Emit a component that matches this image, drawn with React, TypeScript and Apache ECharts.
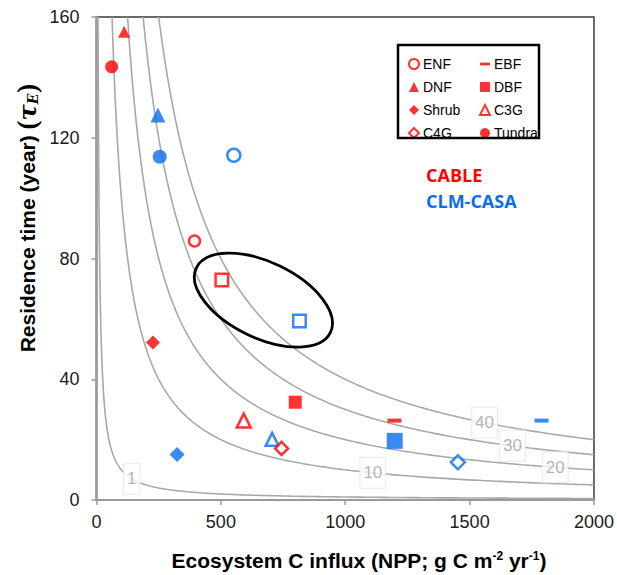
import React, { useEffect, useRef } from 'react';
import * as echarts from 'echarts';

// ---- data ----
const pftNames = ['ENF', 'EBF', 'DNF', 'DBF', 'Shrub', 'C3G', 'C4G', 'Tundra'];
const cableNpp = [394, 1198, 111, 799, 227, 592, 744, 61];
const cableTau = [85.8, 26.3, 155.1, 32.4, 52.2, 26.3, 17.1, 143.5];
const clmNpp = [552, 1789, 247, 1199, 324, 706, 1453, 254];
const clmTau = [114.2, 26.3, 127.5, 19.6, 15.1, 20.1, 12.5, 113.7];
const meanNpp = [504, 816]; // CABLE, CLM-CASA
const meanTau = [72.9, 59.3];
const storageLevels = [1, 10, 20, 30, 40]; // iso-lines of ecosystem C storage (kg C m-2)
const storageLabelNpp = [142, 1111, 1844, 1672, 1560];
const ellipseCenter = [671, 66.2];
const xTickValues = [0, 500, 1000, 1500, 2000];
const yTickValues = [0, 40, 80, 120, 160];

// ---- styles ----
const RED = '#ff0000';
const BLUE = '#0a6cf0';
const pftSymbol = ['circle', 'rect', 'triangle', 'rect', 'diamond', 'triangle', 'diamond', 'circle'];
const pftOpen = [true, false, false, false, false, true, true, false];
const cableSize: any[] = [11, [14, 4], 12, 13, 14, 14, 13, 13];
const clmSize: any[] = [13, [14, 4], 15, 16, 15, 13, 14, 14];
const legendLeftCol = ['ENF', 'DNF', 'Shrub', 'C4G'];
const legendRightCol = ['EBF', 'DBF', 'C3G', 'Tundra'];

function pointStyle(open: boolean, color: string) {
  return open ? { color: '#ffffff', borderColor: color, borderWidth: 2.5 } : { color };
}

function curveData(c: number) {
  const pts: number[][] = [];
  const x0 = (c * 1000) / 160;
  const n = 300;
  for (let k = 0; k <= n; k++) {
    const x = x0 * Math.pow(2000 / x0, k / n);
    pts.push([x, (c * 1000) / x]);
  }
  return pts;
}

function legendItem(name: string) {
  const i = pftNames.indexOf(name);
  const item: any = { name, itemStyle: pointStyle(pftOpen[i], RED) };
  if (pftOpen[i]) item.itemStyle = { color: '#ffffff', borderColor: RED, borderWidth: 2 };
  if (name === 'EBF') item.icon = 'path://M0,0H14V4H0Z';
  else item.icon = pftSymbol[i];
  return item;
}

export default function App() {
  const ref = useRef<HTMLDivElement>(null);
  useEffect(() => {
    if (!ref.current) return;
    const chart = echarts.init(ref.current, undefined, { renderer: 'svg' });
    const series: any[] = [];
    storageLevels.forEach((c) => {
      series.push({
        type: 'line',
        name: 'C' + c,
        data: curveData(c),
        showSymbol: false,
        symbol: 'none',
        silent: true,
        clip: true,
        lineStyle: { color: '#a8a8a8', width: 1.6 },
        z: 1,
      });
    });
    series.push({
      type: 'scatter',
      name: 'storageLabels',
      data: storageLevels.map((c, i) => [storageLabelNpp[i], (c * 1000) / storageLabelNpp[i], c]),
      symbolSize: 0,
      silent: true,
      z: 2,
      label: {
        show: true,
        position: 'inside',
        formatter: (p: any) => String(p.data[2]),
        fontFamily: 'Liberation Sans',
        fontSize: 17,
        color: '#a0a0a0',
        backgroundColor: '#ffffff',
        borderColor: '#e6e6e6',
        borderWidth: 1,
        padding: [7, 3, 6, 3],
      },
    });
    pftNames.forEach((name, i) => {
      series.push({
        type: 'scatter',
        name,
        data: [[cableNpp[i], cableTau[i]]],
        symbol: pftSymbol[i],
        symbolSize: cableSize[i],
        itemStyle: pointStyle(pftOpen[i], RED),
        z: 5,
      });
      series.push({
        type: 'scatter',
        name: name + ' (CLM-CASA)',
        data: [[clmNpp[i], clmTau[i]]],
        symbol: pftSymbol[i],
        symbolSize: clmSize[i],
        itemStyle: pointStyle(pftOpen[i], BLUE),
        z: 5,
      });
    });
    series.push({
      type: 'scatter',
      name: 'mean CABLE',
      data: [[meanNpp[0], meanTau[0]]],
      symbol: 'rect',
      symbolSize: 12.5,
      itemStyle: pointStyle(true, RED),
      z: 5,
    });
    series.push({
      type: 'scatter',
      name: 'mean CLM-CASA',
      data: [[meanNpp[1], meanTau[1]]],
      symbol: 'rect',
      symbolSize: 12.5,
      itemStyle: pointStyle(true, BLUE),
      z: 5,
    });

    const legendCommon = {
      orient: 'vertical',
      top: 52,
      itemGap: 9,
      itemWidth: 10,
      itemHeight: 10,
      selectedMode: false,
      textStyle: { fontFamily: 'Liberation Sans', fontSize: 14, color: '#000', lineHeight: 14, padding: [0, 0, 0, -1] },
    };

    chart.setOption({
      animation: false,
      backgroundColor: '#ffffff',
      grid: {
        left: 96.5,
        right: 21,
        top: 17,
        bottom: 75,
        show: true,
        borderColor: '#3a3a3a',
        borderWidth: 1.5,
        backgroundColor: 'transparent',
      },
      xAxis: {
        type: 'value',
        min: xTickValues[0],
        max: xTickValues[xTickValues.length - 1],
        interval: 500,
        axisLine: { show: true, onZero: false, lineStyle: { color: '#9a9a9a', width: 2 } },
        axisTick: { show: true, inside: false, length: 5, lineStyle: { color: '#9a9a9a', width: 1.5 } },
        axisLabel: { fontFamily: 'Liberation Sans', fontSize: 18, color: '#1a1a1a', margin: 13, formatter: (v: number) => String(v) },
        splitLine: { show: false },
      },
      yAxis: {
        type: 'value',
        min: yTickValues[0],
        max: yTickValues[yTickValues.length - 1],
        interval: 40,
        axisLine: { show: true, onZero: false, lineStyle: { color: '#9a9a9a', width: 2.5 } },
        axisTick: { show: true, inside: false, length: 5, lineStyle: { color: '#9a9a9a', width: 1.5 } },
        axisLabel: { fontFamily: 'Liberation Sans', fontSize: 18, color: '#1a1a1a', margin: 17, formatter: (v: number) => String(v) },
        splitLine: { show: false },
      },
      legend: [
        { ...legendCommon, left: 403, data: legendLeftCol.map(legendItem) },
        { ...legendCommon, left: 474, data: legendRightCol.map(legendItem) },
      ],
      series,
    });

    const c = chart.convertToPixel({ gridIndex: 0 } as any, ellipseCenter) as number[];

    chart.setOption({
      graphic: [
        {
          type: 'rect',
          shape: { x: 398, y: 45, width: 141, height: 93 },
          style: { fill: 'none', stroke: '#000', lineWidth: 2.5 },
          z: 10,
        },
        {
          type: 'ellipse',
          x: c[0],
          y: c[1],
          rotation: -25.7 * Math.PI / 180,
          shape: { cx: 0, cy: 0, rx: 74.4, ry: 37.9 },
          style: { fill: 'none', stroke: '#000', lineWidth: 2.8 },
          z: 10,
        },
        {
          type: 'text',
          x: 426,
          y: 175,
          style: {
            text: 'CABLE',
            fill: RED,
            font: 'bold 18px "Open Sans"',
            align: 'left',
            verticalAlign: 'middle',
          },
          z: 10,
        },
        {
          type: 'text',
          x: 426,
          y: 201,
          style: {
            text: 'CLM-CASA',
            fill: BLUE,
            font: 'bold 18px "Open Sans"',
            align: 'left',
            verticalAlign: 'middle',
          },
          z: 10,
        },
        {
          type: 'text',
          x: 359,
          y: 560,
          style: {
            text: '{a|Ecosystem C influx (NPP; g C m}{s|-2}{a| yr}{s|-1}{a|)}',
            align: 'center',
            verticalAlign: 'middle',
            rich: {
              a: { fontFamily: 'Liberation Sans', fontWeight: 'bold', fontSize: 21, color: '#000', lineHeight: 26, verticalAlign: 'middle' },
              s: { fontFamily: 'Liberation Sans', fontWeight: 'bold', fontSize: 12, color: '#000', lineHeight: 26, verticalAlign: 'top', padding: [3, 0, 0, 0] },
            },
          },
          z: 10,
        },
        {
          type: 'text',
          x: 27,
          y: 218,
          rotation: Math.PI / 2,
          style: {
            text: '{a|Residence time (year) }{p|(}{t|τ}{e|E}{p|)}',
            align: 'center',
            verticalAlign: 'middle',
            rich: {
              a: { fontFamily: 'Liberation Sans', fontWeight: 'bold', fontSize: 21, color: '#000', lineHeight: 30, verticalAlign: 'middle' },
              p: { fontFamily: 'Liberation Serif', fontWeight: 'bold', fontSize: 27, color: '#000', lineHeight: 30, verticalAlign: 'middle' },
              t: { fontFamily: 'DejaVu Serif', fontWeight: 'bold', fontStyle: 'italic', fontSize: 24, color: '#000', lineHeight: 30, verticalAlign: 'middle' },
              e: { fontFamily: 'DejaVu Serif', fontWeight: 'bold', fontStyle: 'italic', fontSize: 14, color: '#000', lineHeight: 30, verticalAlign: 'bottom', padding: [0, 1, 2, 0] },
            },
          },
          z: 10,
        },
      ],
    });

    return () => chart.dispose();
  }, []);
  return <div ref={ref} style={{ position: 'fixed', left: 0, top: 0, width: 617, height: 575 }} />;
}
